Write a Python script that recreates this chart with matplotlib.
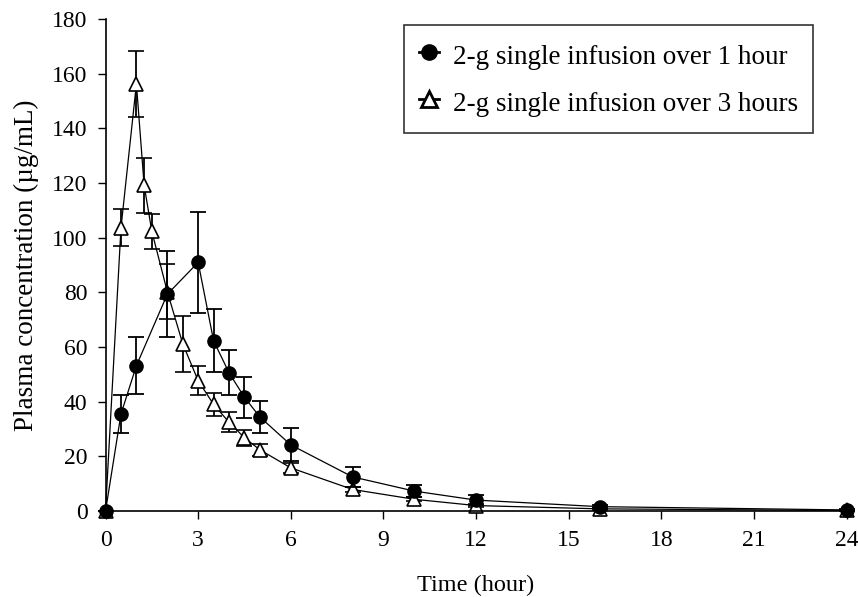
import numpy as np
import matplotlib.pyplot as plt
from matplotlib.lines import Line2D

plt.rcParams['font.family'] = ['Liberation Serif', 'DejaVu Serif']

# ---------- Datos ----------
t_1h = [0, 0.5, 1, 2, 3, 3.5, 4, 4.5, 5, 6, 8, 10, 12, 16, 24]
c_1h = [0, 35.5, 53.2, 79.3, 91.0, 62.3, 50.6, 41.6, 34.4, 24.2, 12.5, 7.3, 4.0, 1.6, 0.4]
sd_1h = [0, 7.1, 10.5, 15.8, 18.4, 11.6, 8.2, 7.6, 6.0, 6.0, 3.7, 2.2, 1.7, 0.5, 0.2]

t_3h = [0, 0.5, 1, 1.25, 1.5, 2, 2.5, 3, 3.5, 4, 4.5, 5, 6, 8, 10, 12, 16, 24]
c_3h = [0, 103.6, 156.3, 119.2, 102.3, 80.3, 61.2, 47.7, 39.0, 32.5, 26.8, 22.4, 15.8, 7.9, 4.3, 2.0, 0.8, 0.2]
sd_3h = [0, 6.8, 12.1, 10.0, 6.4, 10.2, 10.2, 5.4, 4.2, 3.6, 2.9, 2.2, 1.9, 1.0, 0.8, 0.5, 0.3, 0.1]

labels = ['2-g single infusion over 1 hour', '2-g single infusion over 3 hours']
x_ticks = [0, 3, 6, 9, 12, 15, 18, 21, 24]
y_ticks = [0, 20, 40, 60, 80, 100, 120, 140, 160, 180]

# ---------- Gráfico ----------
fig = plt.figure(figsize=(8.58, 5.97), dpi=100)
ax = fig.add_axes([0.123, 0.144, 0.8636, 0.824])

ax.errorbar(t_1h, c_1h, yerr=sd_1h, color='black', lw=0.9, marker='o',
            ms=9.5, mfc='black', mec='black', ecolor='black', elinewidth=1.3,
            capsize=6, capthick=1.3, clip_on=False, zorder=3)
ax.errorbar(t_3h, c_3h, yerr=sd_3h, color='black', lw=0.9, marker='^',
            ms=10, mfc='white', mec='black', mew=1.2, ecolor='black',
            elinewidth=1.3, capsize=6, capthick=1.3, clip_on=False, zorder=2)

ax.set_xlim(0, 24)
ax.set_ylim(0, 180)
ax.set_xticks(x_ticks)
ax.set_yticks(y_ticks)
ax.tick_params(direction='out', length=6, width=1, labelsize=17)
ax.tick_params(axis='x', pad=8)
ax.tick_params(axis='y', pad=7)
for s in ['top', 'right']:
    ax.spines[s].set_visible(False)
for s in ['left', 'bottom']:
    ax.spines[s].set_linewidth(1.2)

ax.set_xlabel('Time (hour)', fontsize=17.5, labelpad=17)
ax.set_ylabel('Plasma concentration (\u00b5g/mL)', fontsize=19.5, labelpad=9)

# leyenda: solo marcador + línea, sin barras de error
handles = [
    Line2D([], [], color='black', lw=2, marker='o', ms=11, mfc='black'),
    Line2D([], [], color='black', lw=2, marker='^', ms=12, mfc='white', mew=2),
]
leg = ax.legend(handles, labels, loc='upper right', bbox_to_anchor=(0.955, 0.988),
                fontsize=19.5, frameon=True, fancybox=False, edgecolor='black',
                handlelength=0.75, handleheight=1.33, labelspacing=0.63,
                borderpad=0.56, handletextpad=0.5, borderaxespad=0)
leg.get_frame().set_linewidth(1.2)

fig.savefig('out.png', dpi=100)
